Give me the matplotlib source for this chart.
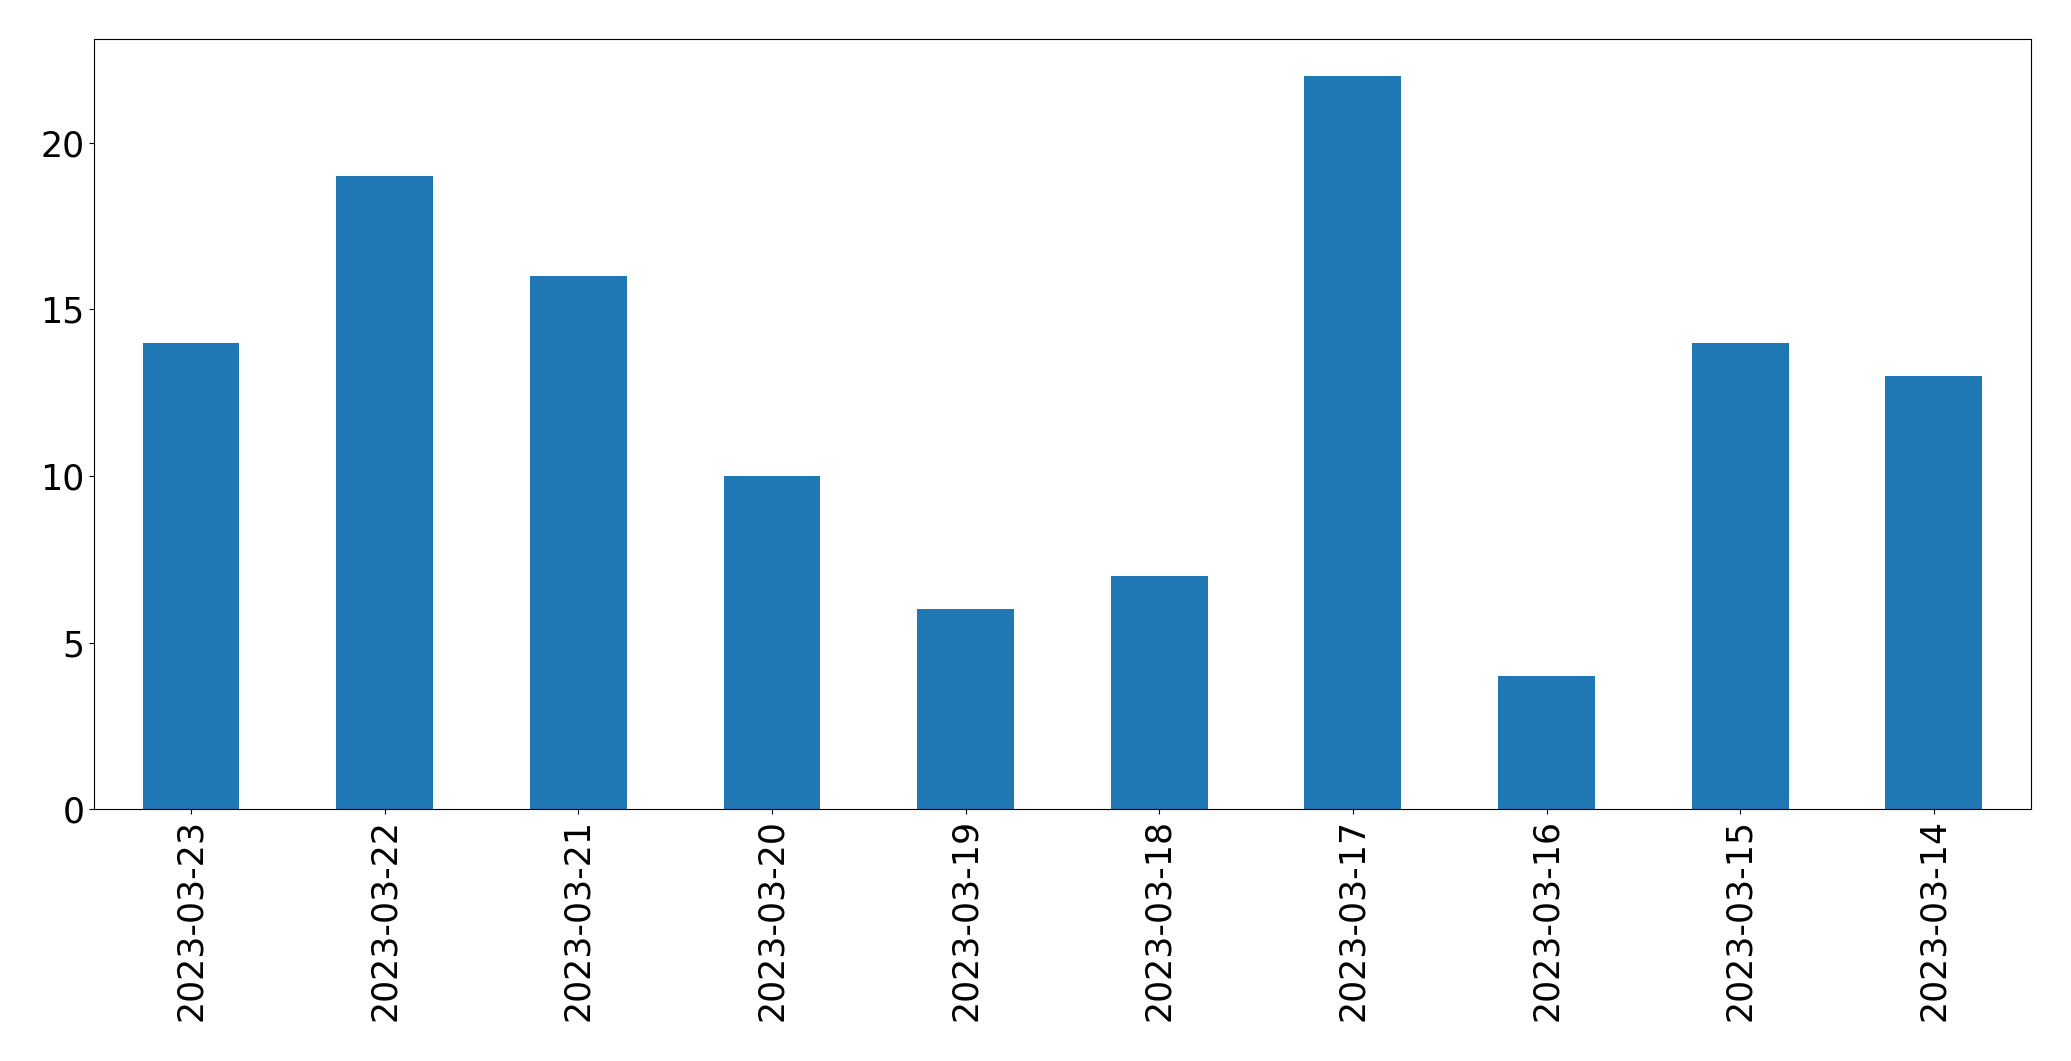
import matplotlib

matplotlib.use("Agg")
import matplotlib.pyplot as plt

dates = ["2023-03-23", "2023-03-22", "2023-03-21", "2023-03-20", "2023-03-19",
         "2023-03-18", "2023-03-17", "2023-03-16", "2023-03-15", "2023-03-14"]
counts = [14, 19, 16, 10, 6, 7, 22, 4, 14, 13]

fig = plt.figure(figsize=(20.71, 10.61), dpi=100)
ax = fig.add_axes([0.0455, 0.2372, 0.935, 0.7258])

ax.bar(range(len(dates)), counts, width=0.5, color="#1f77b4")
ax.set_xlim(-0.5, len(dates) - 0.5)
ax.set_ylim(0, max(counts) * 1.05)
ax.set_xticks(range(len(dates)))
ax.set_xticklabels(dates, rotation=90)
ax.set_yticks([0, 5, 10, 15, 20])
ax.tick_params(labelsize=25)

plt.savefig("out.png", dpi=100)
